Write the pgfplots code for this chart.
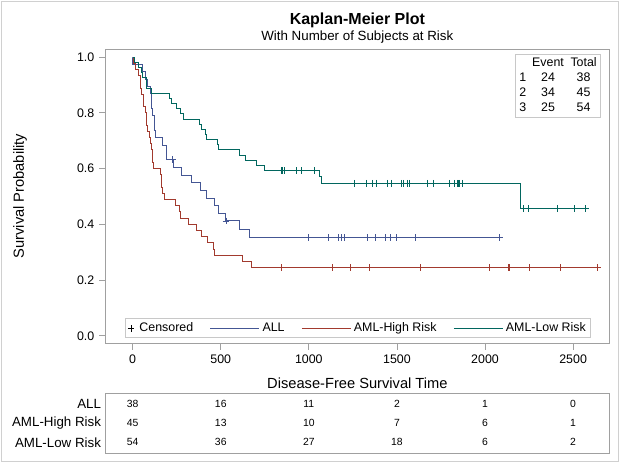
\documentclass[border=0pt]{standalone}
\usepackage{fontspec}
\setmainfont{Liberation Sans}
\usepackage{pgfplots}
\pgfplotsset{compat=1.18}
\definecolor{cALL}{HTML}{445694}
\definecolor{cHigh}{HTML}{A23A2E}
\definecolor{cLow}{HTML}{01665E}
\definecolor{framec}{HTML}{A0A0A0}
\definecolor{boxc}{HTML}{C8C8C8}
\definecolor{borderc}{HTML}{D0D0D0}
\pgfplotsset{/pgf/number format/assume math mode=true, /pgf/number format/set thousands separator={}}
\begin{document}
\begin{tikzpicture}
\useasboundingbox (0,0) rectangle (465pt,-348.75pt);
\draw[borderc, line width=0.75pt] (0.75pt,-0.75pt) rectangle (463.5pt,-345.75pt);
\node[font=\bfseries\fontsize{12}{14}\selectfont] at (268pt,-15pt) {Kaplan-Meier Plot};
\node[font=\fontsize{10}{12}\selectfont] at (268pt,-27.75pt) {With Number of Subjects at Risk};
\begin{axis}[
  at={(79.28pt,-36.75pt)}, anchor=north west,
  scale only axis, width=377.5pt, height=220.5pt,
  xmin=-153, xmax=2704, ymin=-0.026, ymax=1.029,
  axis line style={framec, line width=0.6pt},
  tick align=outside, xtick pos=lower, ytick pos=left,
  major tick length=5pt,
  tick style={framec, line width=0.6pt},
  xtick={0,500,1000,1500,2000,2500},
  ytick={0,0.2,0.4,0.6,0.8,1},
  yticklabel style={/pgf/number format/.cd, fixed, fixed zerofill, precision=1},
  tick label style={font=\fontsize{9.3}{11}\selectfont},
  xlabel={Disease-Free Survival Time},
  ylabel={Survival Probability},
  label style={font=\fontsize{11}{13}\selectfont},
  xlabel style={at={(axis description cs:0.5,-0.136)}, anchor=center},
  ylabel style={at={(axis description cs:-0.1703,0.5)}, anchor=center},
  legend style={at={(axis description cs:0.5,0.017)}, anchor=south, legend columns=4,
    draw=boxc, fill=white, font=\fontsize{9.3}{11}\selectfont, inner sep=1pt,
    /tikz/every even column/.append style={column sep=10.5pt}},
  legend cell align=left,
]
\addlegendimage{legend image code/.code={\draw[black, line width=0.5pt] (-2.5pt,0pt)--(2.5pt,0pt) (0pt,-2.5pt)--(0pt,2.5pt); \path (-3.5pt,0pt) (4pt,0pt);}}
\addlegendentry{Censored}
\addlegendimage{legend image code/.code={\draw[cALL, line width=0.75pt] (0pt,0pt) -- (36.75pt,0pt);}}
\addlegendentry{ALL}
\addlegendimage{legend image code/.code={\draw[cHigh, line width=0.75pt] (0pt,0pt) -- (36.75pt,0pt);}}
\addlegendentry{AML-High Risk}
\addlegendimage{legend image code/.code={\draw[cLow, line width=0.75pt] (0pt,0pt) -- (36.75pt,0pt);}}
\addlegendentry{AML-Low Risk}

% ALL
\addplot[cALL, line width=0.75pt, const plot, forget plot] coordinates {
(0,1) (1,0.973684) (55,0.947368) (74,0.921053) (86,0.894737) (104,0.868421) (107,0.842105) (109,0.815789) (110,0.789474) (122,0.736842) (129,0.710526) (172,0.684211) (192,0.657895) (194,0.631579) (230,0.604119) (276,0.576659) (332,0.549199) (383,0.521739) (418,0.494279) (466,0.466819) (487,0.439359) (526,0.411899) (609,0.382478) (662,0.353057) (2081,0.353057)};
\addplot[cALL, only marks, mark=+, mark size=2.5pt, mark options={line width=0.6pt}, forget plot] coordinates {
(226,0.631579) (530,0.411899) (996,0.353057) (1111,0.353057) (1167,0.353057) (1182,0.353057) (1199,0.353057) (1330,0.353057) (1377,0.353057) (1433,0.353057) (1462,0.353057) (1496,0.353057) (1602,0.353057) (2081,0.353057)};
% AML-High Risk
\addplot[cHigh, line width=0.75pt, const plot, forget plot] coordinates {
(0,1) (2,0.977778) (16,0.955556) (32,0.933333) (47,0.888889) (48,0.866667) (63,0.844444) (64,0.822222) (74,0.8) (76,0.777778) (80,0.755556) (84,0.733333) (93,0.711111) (100,0.688889) (105,0.666667) (113,0.644444) (115,0.622222) (120,0.6) (157,0.577778) (162,0.555556) (164,0.533333) (168,0.511111) (183,0.488889) (242,0.466667) (268,0.444444) (273,0.422222) (318,0.4) (363,0.377778) (390,0.355556) (422,0.333333) (456,0.311111) (467,0.288889) (625,0.266667) (677,0.244444) (2640,0.244444)};
\addplot[cHigh, only marks, mark=+, mark size=2.5pt, mark options={line width=0.6pt}, forget plot] coordinates {
(845,0.244444) (1136,0.244444) (1238,0.244444) (1345,0.244444) (1631,0.244444) (2024,0.244444) (2133,0.244444) (2140,0.244444) (2252,0.244444) (2430,0.244444) (2640,0.244444)};
% AML-Low Risk
\addplot[cLow, line width=0.75pt, const plot, forget plot] coordinates {
(0,1) (10,0.981481) (35,0.962963) (48,0.944444) (53,0.925926) (79,0.907407) (80,0.888889) (105,0.870370) (211,0.851852) (219,0.833333) (248,0.814815) (272,0.796296) (288,0.777778) (381,0.759259) (390,0.740741) (414,0.722222) (421,0.703704) (481,0.685185) (486,0.666667) (606,0.648148) (641,0.629630) (704,0.611111) (748,0.592593) (1063,0.569801) (1074,0.547009) (2204,0.455840) (2569,0.455840)};
\addplot[cLow, only marks, mark=+, mark size=2.5pt, mark options={line width=0.6pt}, forget plot] coordinates {
(847,0.592593) (848,0.592593) (860,0.592593) (932,0.592593) (957,0.592593) (1030,0.592593)
(1258,0.547009) (1324,0.547009) (1363,0.547009) (1384,0.547009) (1447,0.547009) (1470,0.547009) (1527,0.547009) (1535,0.547009) (1562,0.547009) (1568,0.547009) (1674,0.547009) (1709,0.547009) (1799,0.547009) (1829,0.547009) (1843,0.547009) (1850,0.547009) (1857,0.547009) (1870,0.547009)
(2218,0.455840) (2246,0.455840) (2409,0.455840) (2506,0.455840) (2569,0.455840)};

\node[draw=boxc, fill=white, anchor=north east, inner xsep=3pt, inner ysep=1pt, font=\fontsize{9.3}{11.25}\selectfont] at (rel axis cs:0.984,0.983) {\begin{tabular}{@{}l@{\hspace{4.5pt}}c@{\hspace{5pt}}c@{}} & Event & Total\\ 1 & 24 & 38\\ 2 & 34 & 45\\ 3 & 25 & 54\end{tabular}};
\end{axis}

\begin{axis}[
  at={(79.28pt,-294.75pt)}, anchor=north west,
  scale only axis, width=377.5pt, height=45pt,
  xmin=-153, xmax=2704, ymin=0.45, ymax=3.55,
  xtick=\empty, ytick={1,2,3}, yticklabels={AML-Low Risk, AML-High Risk, ALL},
  major tick length=0pt,
  axis line style={framec, line width=0.6pt},
  yticklabel style={font=\fontsize{10}{12}\selectfont},
]
\addplot[draw=none, nodes near coords, point meta=explicit symbolic,
  every node near coord/.style={anchor=center, font=\fontsize{7.8}{9}\selectfont}]
  table[x=t, y=r, meta=n] {
t r n
0 3 38
500 3 16
1000 3 11
1500 3 2
2000 3 1
2500 3 0
0 2 45
500 2 13
1000 2 10
1500 2 7
2000 2 6
2500 2 1
0 1 54
500 1 36
1000 1 27
1500 1 18
2000 1 6
2500 1 2
};
\end{axis}
\end{tikzpicture}
\end{document}
